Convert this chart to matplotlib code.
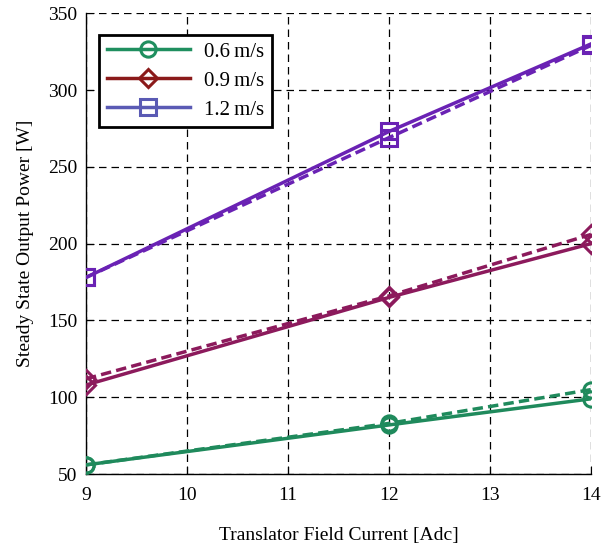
import matplotlib
matplotlib.use('Agg')
import matplotlib.pyplot as plt
from matplotlib.lines import Line2D

current = [9, 12, 14]

p06_solid = [56, 82, 99]
p06_dash = [56, 83, 105]
p09_solid = [108, 165, 200]
p09_dash = [112, 166, 206]
p12_solid = [178, 273, 330]
p12_dash = [178, 269, 329]

labels = ['0.6\u2009m/s', '0.9\u2009m/s', '1.2\u2009m/s']

plt.rcParams['font.family'] = ['Liberation Serif', 'DejaVu Serif']

green = '#1f8a5c'
magenta = '#8c1a5c'
purple = '#6a22b4'

fig = plt.figure(figsize=(6.03, 5.5), dpi=100)
ax = fig.add_axes([0.1426, 0.138, 0.8375, 0.838])

series = [
    (p06_solid, p06_dash, green, 'o', 11),
    (p09_solid, p09_dash, magenta, 'D', 9),
    (p12_solid, p12_dash, purple, 's', 11),
]
for solid, dash, col, mk, ms in series:
    ax.plot(current, dash, '--', color=col, lw=2.5, marker=mk, ms=ms,
            mfc='none', mew=2.2, dashes=(3, 1.5), zorder=3)
    ax.plot(current, solid, '-', color=col, lw=2.5, marker=mk, ms=ms,
            mfc='none', mew=2.2, zorder=3)

ax.set_xlim(9, 14)
ax.set_ylim(50, 350)
ax.set_xticks([9, 10, 11, 12, 13, 14])
ax.set_yticks(range(50, 351, 50))
ax.grid(True, color='black', linestyle=(0, (6, 4)), lw=0.9)
ax.set_axisbelow(True)
for s in ['top', 'right']:
    ax.spines[s].set_visible(False)
ax.spines['left'].set_linewidth(1.0)
ax.spines['bottom'].set_linewidth(1.0)
ax.tick_params(direction='in', length=6, labelsize=14)
ax.tick_params(axis='y', pad=6)
ax.tick_params(axis='x', pad=9)

ax.set_xlabel('Translator Field Current [Adc]', fontsize=14, labelpad=17)
ax.set_ylabel('Steady State Output Power [W]', fontsize=14, labelpad=10)

handles = [
    Line2D([], [], color='#1f8f5f', lw=2.5, marker='o', ms=11, mfc='none', mew=2.2),
    Line2D([], [], color='#8b1a1a', lw=2.5, marker='D', ms=9, mfc='none', mew=2.2),
    Line2D([], [], color='#5a5ab4', lw=2.5, marker='s', ms=11, mfc='none', mew=2.2),
]
leg = ax.legend(handles, labels, loc='upper left', bbox_to_anchor=(0.018, 0.962),
                fontsize=15, frameon=True, fancybox=False, edgecolor='black',
                framealpha=1, handlelength=4.0, borderpad=0.35, labelspacing=0.45,
                handletextpad=0.7, borderaxespad=0.2)
leg.get_frame().set_linewidth(2)

fig.savefig('out.png', dpi=100)
